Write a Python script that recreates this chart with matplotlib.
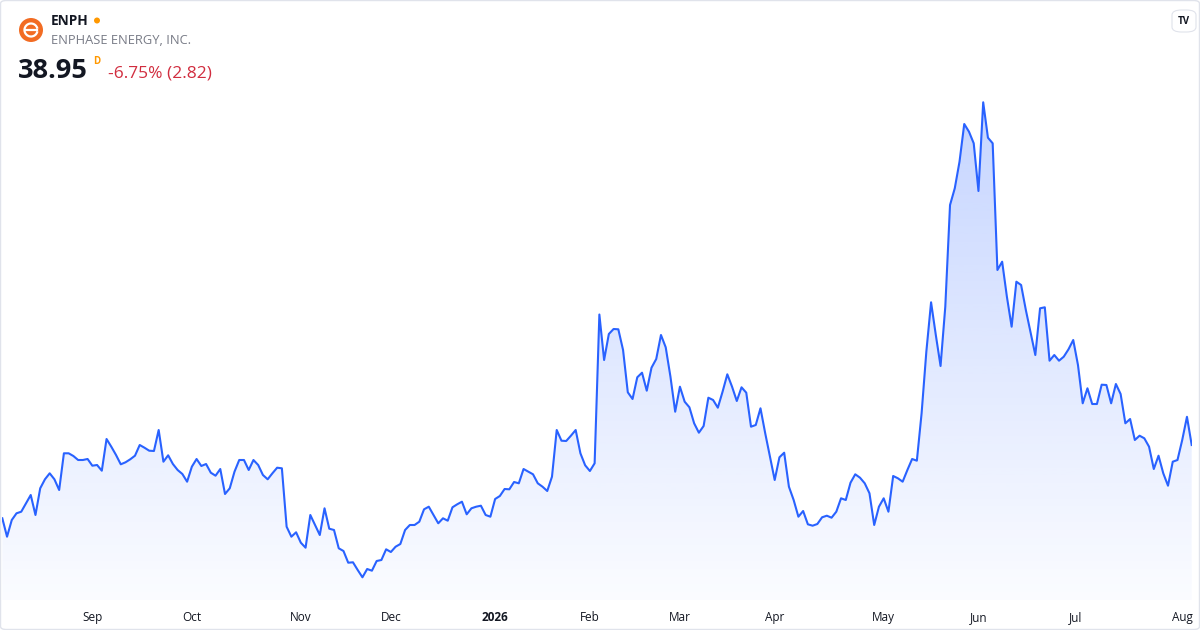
import matplotlib
matplotlib.use("Agg")
import matplotlib.pyplot as plt
from matplotlib.patches import Ellipse, FancyBboxPatch, Arc
import numpy as np

# daily closes (Aug 2025 -> Aug 2026)
prices = [
    31.62, 29.78, 31.45, 32.12, 32.28, 33.12, 33.95, 31.95, 34.62, 35.52,
    36.12, 35.52, 34.45, 38.12, 38.12, 37.85, 37.45, 37.45, 37.55, 36.88,
    36.95, 36.38, 39.55, 38.78, 37.95, 37.02, 37.22, 37.52, 37.88, 38.95,
    38.68, 38.38, 38.35, 40.45, 37.28, 37.92, 37.05, 36.45, 36.05, 35.28,
    36.78, 37.55, 36.85, 37.05, 36.18, 35.88, 36.55, 34.05, 34.62, 36.28,
    37.45, 37.45, 36.45, 37.45, 36.95, 35.95, 35.52, 36.12, 36.68, 36.62,
    30.78, 29.78, 30.22, 29.18, 28.68, 31.95, 30.95, 29.95, 32.62, 30.58,
    30.45, 28.62, 28.35, 27.18, 27.22, 26.45, 25.72, 26.55, 26.38, 27.35,
    27.45, 28.52, 28.25, 28.78, 29.05, 30.45, 30.95, 30.95, 31.28, 32.52,
    32.78, 31.95, 31.12, 31.62, 31.38, 32.72, 33.02, 33.28, 32.02, 32.62,
    32.78, 32.88, 31.95, 31.78, 33.55, 33.85, 34.55, 34.52, 35.25, 35.12,
    36.55, 36.28, 36.02, 35.12, 34.78, 34.35, 35.78, 40.45, 39.38, 39.35,
    39.88, 40.45, 38.12, 36.92, 36.35, 37.12, 52.00, 47.45, 50.05, 50.55,
    50.52, 48.45, 44.22, 43.55, 45.72, 46.18, 44.38, 46.68, 47.55, 49.95,
    48.72, 45.78, 42.28, 44.78, 43.28, 42.72, 41.12, 40.18, 40.85, 43.68,
    43.45, 42.68, 44.28, 46.02, 44.78, 43.35, 44.72, 44.18, 40.78, 40.95,
    42.62, 40.12, 37.78, 35.45, 37.72, 38.18, 34.78, 33.45, 31.78, 32.35,
    31.02, 30.88, 31.05, 31.72, 31.88, 31.68, 32.28, 33.62, 33.45, 35.18,
    36.02, 35.68, 35.12, 34.12, 30.95, 32.78, 33.62, 32.28, 35.85, 35.62,
    35.28, 36.45, 37.55, 37.38, 42.12, 48.28, 53.22, 49.95, 46.85, 52.78,
    62.95, 64.62, 67.28, 71.05, 70.28, 69.12, 64.35, 73.22, 69.68, 69.12,
    56.45, 57.28, 53.78, 50.78, 55.28, 54.95, 52.45, 50.22, 47.95, 52.62,
    52.72, 47.38, 47.95, 47.38, 47.78, 48.52, 49.45, 46.95, 43.12, 44.62,
    43.05, 43.05, 44.98, 44.95, 43.12, 45.05, 44.05, 41.12, 41.55, 39.45,
    39.88, 39.62, 38.78, 36.55, 37.88, 36.12, 34.88, 37.28, 37.45, 39.45,
    41.77, 38.95,
]
month_labels = ["Sep", "Oct", "Nov", "Dec", "2026", "Feb", "Mar", "Apr",
                "May", "Jun", "Jul", "Aug"]
month_pos = [19, 40, 63, 82, 104, 124, 143, 163, 186, 206, 226.5, 249]

symbol = "ENPH"
company = "ENPHASE ENERGY, INC."
last_price = "38.95"
change_txt = "-6.75% (2.82)"

blue = "#2962FF"
W, H = 1200, 630

plt.rcParams["font.family"] = ["Open Sans", "DejaVu Sans"]

fig = plt.figure(figsize=(12, 6.3), dpi=100)
fig.patch.set_facecolor("white")

x = np.arange(len(prices))
y = np.array(prices)
ymin, ymax = 23.45, 74.45

ax = fig.add_axes([2.3 / W, 30 / H, (1191.7 - 2.3) / W, 510 / H])
ax.set_xlim(0, len(prices) - 1)
ax.set_ylim(ymin, ymax)
ax.set_facecolor("none")
for s in ax.spines.values():
    s.set_visible(False)
ax.set_yticks([])

# gradient area under the line
poly = ax.fill_between(x, y, ymin, color="none", lw=0)
alpha = np.linspace(0.27, 0.02, 256)
rgba = np.zeros((256, 1, 4))
rgba[:, 0, :3] = matplotlib.colors.to_rgb(blue)
rgba[:, 0, 3] = alpha
img = ax.imshow(rgba, extent=[0, len(prices) - 1, ymin, y.max()],
                aspect="auto", origin="upper", zorder=1)
img.set_clip_path(poly.get_paths()[0], transform=ax.transData)
ax.plot(x, y, color=blue, lw=1.5, zorder=3, solid_joinstyle="round")

ax.set_xticks(month_pos)
ax.set_xticklabels(month_labels)
ax.tick_params(axis="x", length=0, pad=8, labelsize=8.5, labelcolor="#131722")
for lbl in ax.get_xticklabels():
    if lbl.get_text() == "2026":
        lbl.set_fontweight("bold")

# header
def fx(px):
    return px / W

def fy(py):
    return 1 - py / H

def dot(cx, cy, r, color):
    fig.patches.append(Ellipse((fx(cx), fy(cy)), 2 * r / W, 2 * r / H,
                               transform=fig.transFigure,
                               facecolor=color, edgecolor="none"))

dot(31, 30, 12, "#f26c23")
fig.patches.append(Arc((fx(31), fy(30)), 13 / W, 13 / H, theta1=20, theta2=340,
                       transform=fig.transFigure, color="white", lw=1.6))
fig.add_artist(plt.Line2D([fx(25), fx(37)], [fy(30), fy(30)],
                          transform=fig.transFigure, color="white", lw=1.6))

fig.text(fx(51), fy(21), symbol, fontsize=9.8, fontweight="bold",
         color="#131722", va="center", ha="left")
dot(97, 20.5, 3, "#ff9800")
fig.text(fx(51), fy(40), company, fontsize=9.3, color="#787b86",
         va="center", ha="left")
fig.text(fx(18), fy(71), last_price, fontsize=19.5, fontweight="bold",
         color="#131722", va="center", ha="left")
fig.text(fx(93), fy(61), "D", fontsize=7, fontweight="bold",
         color="#ff9800", va="center", ha="left")
fig.text(fx(108), fy(74), change_txt, fontsize=12.5, color="#d12d3f",
         va="center", ha="left")

# tv badge top right
fig.patches.append(FancyBboxPatch((fx(1172), fy(32)), 24 / W, 22 / H,
                                  boxstyle="round,pad=0,rounding_size=0.008",
                                  transform=fig.transFigure, facecolor="white",
                                  edgecolor="#e0e3eb", lw=0.8))
fig.text(fx(1184), fy(21), "TV", fontsize=7, fontweight="bold",
         color="#131722", va="center", ha="center")

# outer border
fig.patches.append(FancyBboxPatch((0.5 / W, 0.5 / H), (W - 1) / W, (H - 1) / H,
                                  boxstyle="round,pad=0,rounding_size=0.005",
                                  transform=fig.transFigure, facecolor="none",
                                  edgecolor="#e0e3eb", lw=1))

fig.savefig("out.png", dpi=100, facecolor="white")
